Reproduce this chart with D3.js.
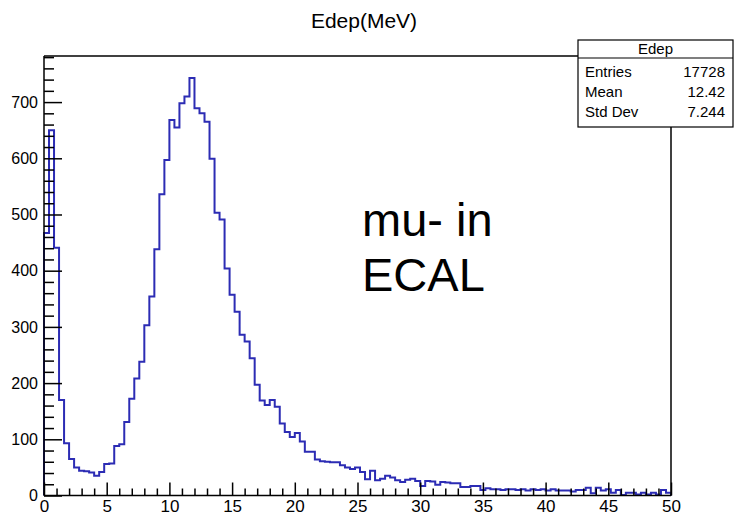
<!DOCTYPE html>
<html>
<head>
<meta charset="utf-8">
<script src="https://cdn.jsdelivr.net/npm/d3@7"></script>
<style>
  html, body { margin: 0; padding: 0; background: #fff; }
  svg { display: block; font-family: "Liberation Sans", Arial, Helvetica, sans-serif; }
</style>
</head>
<body>
<svg id="chart" width="734" height="520"></svg>
<script>
// Energy deposit histogram: 125 bins of 0.4 MeV from 0 to 50 MeV
const binLow = 0;
const binHigh = 50;
const binCounts = [
  467, 650, 441, 170, 93, 65, 50, 44, 43, 41,
  35, 42, 56, 57, 88, 91, 131, 172, 208, 238,
  303, 354, 438, 536, 597, 668, 655, 698, 710, 743,
  689, 680, 665, 599, 503, 491, 404, 357, 327, 286,
  274, 244, 197, 169, 161, 170, 158, 128, 113, 104,
  111, 96, 78, 78, 64, 61, 60, 59, 59, 54,
  50, 47, 50, 42, 29, 44, 27, 30, 35, 32,
  27, 24, 28, 30, 26, 17, 26, 25, 19, 24,
  23, 22, 22, 15, 15, 17, 17, 10, 13, 11,
  11, 10, 11, 11, 10, 11, 9, 11, 10, 11,
  9, 11, 9, 9, 9, 7, 10, 10, 14, 4,
  14, 9, 11, 5, 10, 1, 5, 5, 2, 5,
  2, 5, 2, 10, 5
];
const yMax = 782;
const xMajorTicks = [0, 5, 10, 15, 20, 25, 30, 35, 40, 45, 50];
const yMajorTicks = [0, 100, 200, 300, 400, 500, 600, 700];

const titleText = "Edep(MeV)";
const statsTitle = "Edep";
const statsLabels = ["Entries", "Mean", "Std Dev"];
const statsValues = ["17728", "12.42", "7.244"];
const noteLines = ["mu- in", "ECAL"];

const lineColor = "#2c2cb4";

const svg = d3.select("#chart");
const frame = { left: 44, right: 671, top: 56, bottom: 495.5 };

const x = d3.scaleLinear().domain([binLow, binHigh]).range([frame.left, frame.right]);
const y = d3.scaleLinear().domain([0, yMax]).range([frame.bottom, frame.top]);

const nBins = binCounts.length;
const binWidth = (binHigh - binLow) / nBins;

// Title
svg.append("text")
  .attr("x", 364).attr("y", 28)
  .attr("text-anchor", "middle")
  .attr("font-size", 21)
  .attr("fill", "#000")
  .text(titleText);

// Histogram outline as a step path
const pts = [[binLow, 0]];
binCounts.forEach((v, i) => {
  const x0 = binLow + i * binWidth;
  pts.push([x0, v], [x0 + binWidth, v]);
});
pts.push([binHigh, 0]);
const step = d3.line().x(d => x(d[0])).y(d => y(d[1]));
svg.append("path")
  .attr("d", step(pts))
  .attr("fill", "none")
  .attr("stroke", lineColor)
  .attr("stroke-width", 2)
  .attr("stroke-linejoin", "miter");

// Y axis: minor ticks every 20, major every 100, all pointing into the frame
const yMinor = d3.range(0, yMax + 0.001, 20).filter(v => v % 100 !== 0);
svg.append("g")
  .attr("transform", `translate(${frame.left},0)`)
  .call(d3.axisLeft(y).tickValues(yMinor).tickSize(-10).tickFormat(""))
  .call(g => g.select(".domain").remove())
  .call(g => g.selectAll("line").attr("stroke", "#000").attr("stroke-width", 1.5));
svg.append("g")
  .attr("transform", `translate(${frame.left},0)`)
  .call(d3.axisLeft(y).tickValues(yMajorTicks).tickSize(-18).tickPadding(6).tickFormat(d3.format("d")))
  .call(g => g.select(".domain").remove())
  .call(g => g.selectAll("line").attr("stroke", "#000").attr("stroke-width", 1.5))
  .call(g => g.selectAll("text").attr("font-size", 16).attr("fill", "#000")
    .attr("font-family", "Liberation Sans, Arial, sans-serif"));

// X axis: minor ticks every 1, major every 5, pointing up into the frame
const xMinor = d3.range(binLow, binHigh + 0.001, 1).filter(v => v % 5 !== 0);
svg.append("g")
  .attr("transform", `translate(0,${frame.bottom})`)
  .call(d3.axisBottom(x).tickValues(xMinor).tickSize(-7).tickFormat(""))
  .call(g => g.select(".domain").remove())
  .call(g => g.selectAll("line").attr("stroke", "#000").attr("stroke-width", 1.5));
svg.append("g")
  .attr("transform", `translate(0,${frame.bottom})`)
  .call(d3.axisBottom(x).tickValues(xMajorTicks).tickSize(-13).tickPadding(5).tickFormat(d3.format("d")))
  .call(g => g.select(".domain").remove())
  .call(g => g.selectAll("line").attr("stroke", "#000").attr("stroke-width", 1.5))
  .call(g => g.selectAll("text").attr("font-size", 17).attr("fill", "#000")
    .attr("dy", "0.71em").attr("y", 4)
    .attr("font-family", "Liberation Sans, Arial, sans-serif"));

// Stats box geometry
const box = { left: 578, right: 733, top: 40, bottom: 127, header: 58 };

// Frame (top edge stops at the stats box, right edge starts below it)
const frameG = svg.append("g").attr("stroke", "#000").attr("stroke-width", 1.5).attr("fill", "none");
frameG.append("line").attr("x1", frame.left).attr("x2", frame.left).attr("y1", frame.top).attr("y2", frame.bottom);
frameG.append("line").attr("x1", frame.left).attr("x2", frame.right).attr("y1", frame.bottom).attr("y2", frame.bottom);
frameG.append("line").attr("x1", frame.left).attr("x2", box.left).attr("y1", frame.top).attr("y2", frame.top);
frameG.append("line").attr("x1", frame.right).attr("x2", frame.right).attr("y1", box.bottom).attr("y2", frame.bottom);

// Stats box
const sb = svg.append("g");
sb.append("rect")
  .attr("x", box.left).attr("y", box.top)
  .attr("width", box.right - box.left).attr("height", box.bottom - box.top)
  .attr("fill", "#fff").attr("stroke", "#000").attr("stroke-width", 1.2);
sb.append("line")
  .attr("x1", box.left).attr("x2", box.right).attr("y1", box.header).attr("y2", box.header)
  .attr("stroke", "#000").attr("stroke-width", 1.2);
sb.append("text")
  .attr("x", (box.left + box.right) / 2).attr("y", 53.5)
  .attr("text-anchor", "middle").attr("font-size", 15).text(statsTitle);
const rowBaselines = [77, 97, 117];
statsLabels.forEach((lab, i) => {
  sb.append("text").attr("x", 585).attr("y", rowBaselines[i]).attr("font-size", 15).text(lab);
  sb.append("text").attr("x", 725).attr("y", rowBaselines[i]).attr("text-anchor", "end")
    .attr("font-size", 15).text(statsValues[i]);
});

// Annotation
const noteBaselines = [236, 291];
noteLines.forEach((t, i) => {
  svg.append("text")
    .attr("x", 362).attr("y", noteBaselines[i])
    .attr("font-size", 47).attr("fill", "#000")
    .text(t);
});
</script>
</body>
</html>
